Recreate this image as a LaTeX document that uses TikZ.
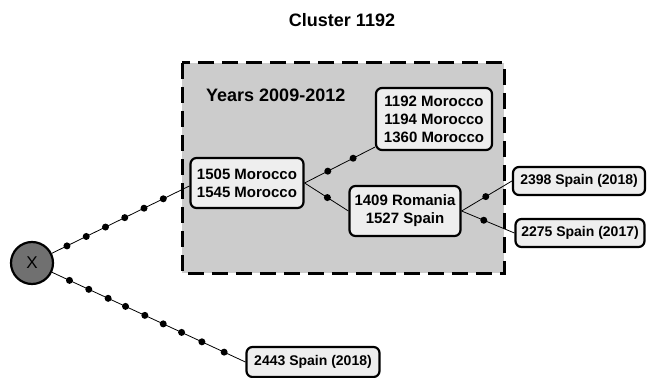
\documentclass[tikz,border=0pt]{standalone}
\usepackage{fontspec}
\setmainfont{Liberation Sans}
\usetikzlibrary{calc}
\begin{document}
\begin{tikzpicture}[x=1pt,y=-1pt,
  box/.style={draw=black, line width=2.2pt, rounded corners=6pt, fill=boxgray, align=center,
    font=\bfseries\fontsize{15}{18}\selectfont, inner sep=0pt},
  leaf/.style={box, font=\bfseries\fontsize{14}{17}\selectfont},
  conn/.style={draw=black, line width=0.8pt},
  dot/.style={circle, fill=black, inner sep=0pt, minimum size=7pt},
]
\definecolor{boxgray}{HTML}{EEEEEE}
\definecolor{regiongray}{HTML}{CCCCCC}
\definecolor{xgray}{HTML}{707070}
\useasboundingbox (0,0) rectangle (647,377);

\node[font=\bfseries\fontsize{18}{21}\selectfont] (title) at (342,20) {Cluster 1192};

\path[fill=regiongray, draw=black, line width=3pt, dash pattern=on 16pt off 8pt]
  (182,63) rectangle (504,273);
\node[anchor=west, font=\bfseries\fontsize{18}{21}\selectfont, inner sep=0pt] (years) at (206,95) {Years 2009-2012};

\node[circle, draw=black, line width=2.2pt, fill=xgray, minimum size=42pt, inner sep=0pt,
  font=\fontsize{17}{20}\selectfont] (X) at (32,263) {X};

\node[box, minimum width=113pt, minimum height=50pt] (A) at (247,183) {1505 Morocco\\1545 Morocco};
\node[box, minimum width=116pt, minimum height=62pt] (B) at (434,119) {1192 Morocco\\1194 Morocco\\1360 Morocco};
\node[box, minimum width=111pt, minimum height=50pt] (C) at (405,211) {1409 Romania\\1527 Spain};
\node[leaf, minimum width=132pt, minimum height=28pt] (D) at (579,181) {2398 Spain (2018)};
\node[leaf, minimum width=129pt, minimum height=28pt] (E) at (580,233) {2275 Spain (2017)};
\node[leaf, minimum width=133pt, minimum height=30pt] (F) at (313,362) {2443 Spain (2018)};

\draw[conn] (X) -- ($(A.west)+(0,3)$)
  foreach \p in {0.11,0.25,0.39,0.53,0.67,0.81} {node[dot,pos=\p]{}};
\draw[conn] (X) -- (F.west)
  foreach \p in {0.09,0.19,0.29,0.38,0.48,0.575,0.67,0.775,0.89} {node[dot,pos=\p]{}};
\draw[conn] (A.east) -- ($(B.south west)+(0,-4)$)
  foreach \p in {0.33,0.69} {node[dot,pos=\p]{}};
\draw[conn] (A.east) -- (C.west) node[dot,pos=0.52]{};
\draw[conn] (C.east) -- (D.west) node[dot,pos=0.48]{};
\draw[conn] (C.east) -- (E.west) node[dot,pos=0.42]{};
\end{tikzpicture}
\end{document}
